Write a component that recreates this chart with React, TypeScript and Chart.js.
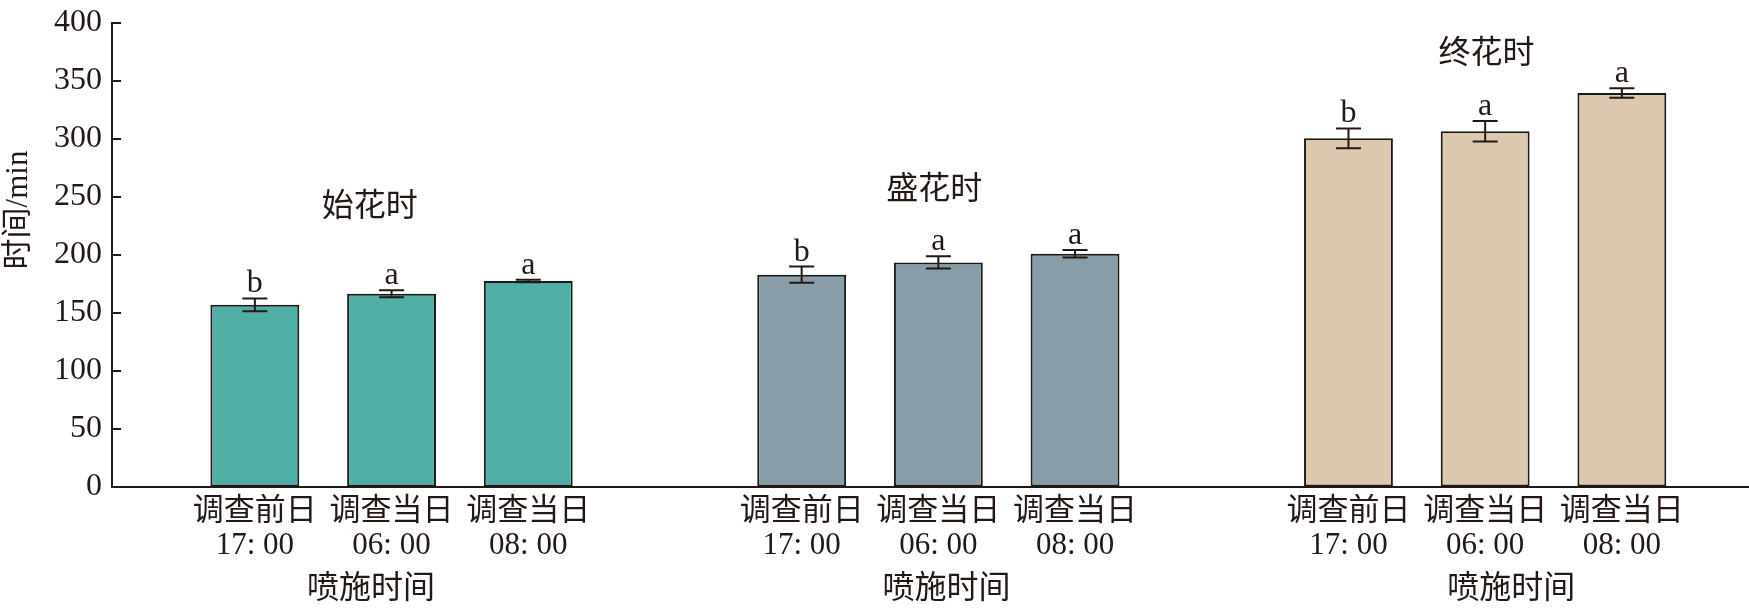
import { useEffect, useRef } from 'react';
import { Chart, registerables } from 'chart.js';

Chart.register(...registerables);

// ---- data ----
const GROUPS = ['始花时', '盛花时', '终花时'];
const TICK_LABELS = [
  ['调查前日', '17: 00'], ['调查当日', '06: 00'], ['调查当日', '08: 00'],
  ['调查前日', '17: 00'], ['调查当日', '06: 00'], ['调查当日', '08: 00'],
  ['调查前日', '17: 00'], ['调查当日', '06: 00'], ['调查当日', '08: 00'],
];
const BAR_X = [1, 2, 3, 5, 6, 7, 9, 10, 11];
const BAR_GROUP = [0, 0, 0, 1, 1, 1, 2, 2, 2];
const MEANS = [157, 166.5, 177.5, 183, 193.5, 201, 300.5, 306.5, 339.5];
const ERRORS = [5.5, 3, 1, 7, 5.3, 3.3, 8.5, 8.8, 4];
const LETTERS = ['b', 'a', 'a', 'b', 'a', 'a', 'b', 'a', 'a'];
const GROUP_LABEL_X = [1.84, 5.97, 10.01];
const GROUP_LABEL_Y = [241, 255, 373];
const X_TITLE = '喷施时间';
const X_TITLE_X = [1.85, 6.06, 10.19];
const Y_TITLE = '时间/min';

// ---- styles ----
const COLORS = ['#4FAFA5', '#889DA7', '#DCC8AE'];
const INK = '#231815';
const FONT = "'Liberation Serif', 'Times New Roman', 'Noto Sans CJK SC', serif";

const annotations = {
  id: 'annotations',
  afterDatasetsDraw(chart: any) {
    const ctx = chart.ctx;
    const xs = chart.scales.x;
    const ys = chart.scales.y;
    const area = chart.chartArea;
    ctx.save();
    ctx.strokeStyle = INK;
    ctx.fillStyle = INK;
    ctx.lineWidth = 2;
    // inward y ticks
    ys.ticks.forEach((t: any) => {
      const py = Math.round(ys.getPixelForValue(t.value));
      if (py <= area.bottom - 2) {
        ctx.beginPath();
        ctx.moveTo(area.left, py);
        ctx.lineTo(area.left + 9, py);
        ctx.stroke();
      }
    });
    // error bars + letters
    const meta = chart.getDatasetMeta(0);
    meta.data.forEach((bar: any, i: number) => {
      const cx = bar.x;
      const top = ys.getPixelForValue(MEANS[i] + ERRORS[i]);
      const bot = ys.getPixelForValue(MEANS[i] - ERRORS[i]);
      const cap = 12.5;
      ctx.beginPath();
      ctx.moveTo(cx, top);
      ctx.lineTo(cx, bot);
      ctx.moveTo(cx - cap, top);
      ctx.lineTo(cx + cap, top);
      ctx.moveTo(cx - cap, bot);
      ctx.lineTo(cx + cap, bot);
      ctx.stroke();
      ctx.font = `32px ${FONT}`;
      ctx.textAlign = 'center';
      ctx.textBaseline = 'alphabetic';
      ctx.fillText(LETTERS[i], cx, top - 6);
    });
    // group labels
    ctx.font = `32px ${FONT}`;
    ctx.textAlign = 'center';
    ctx.textBaseline = 'middle';
    GROUPS.forEach((g, i) => {
      ctx.fillText(g, xs.getPixelForValue(GROUP_LABEL_X[i]), ys.getPixelForValue(GROUP_LABEL_Y[i]));
    });
    // x-axis titles
    X_TITLE_X.forEach((v) => {
      ctx.fillText(X_TITLE, xs.getPixelForValue(v), area.bottom + 103);
    });
    // y-axis title
    ctx.save();
    ctx.translate(19, 210);
    ctx.rotate(-Math.PI / 2);
    ctx.font = `31px ${FONT}`;
    ctx.fillText(Y_TITLE, 0, 0);
    ctx.restore();
    ctx.restore();
  },
};

export default function App() {
  const ref = useRef<HTMLCanvasElement | null>(null);
  useEffect(() => {
    document.body.style.margin = '0';
    if (!ref.current) return;
    const chart = new Chart(ref.current, {
      type: 'bar',
      data: {
        datasets: [
          {
            data: BAR_X.map((x, i) => ({ x, y: MEANS[i] })),
            backgroundColor: BAR_GROUP.map((g) => COLORS[g]),
            borderColor: '#1a1a1a',
            borderWidth: 2,
            borderSkipped: false,
            barPercentage: 0.65,
            categoryPercentage: 1,
          },
        ],
      },
      options: {
        animation: false,
        responsive: false,
        devicePixelRatio: 1,
        layout: { padding: { top: 17, right: 0, left: 0, bottom: 0 } },
        plugins: { legend: { display: false }, tooltip: { enabled: false } },
        scales: {
          x: {
            type: 'linear',
            min: -0.045,
            max: 11.93,
            offset: false,
            grid: { display: true, drawOnChartArea: false, drawTicks: false, offset: false },
            border: { display: true, color: INK, width: 2 },
            afterBuildTicks: (scale: any) => {
              scale.ticks = BAR_X.map((v) => ({ value: v }));
            },
            afterFit: (scale: any) => {
              scale.height = 124;
            },
            ticks: {
              autoSkip: false,
              maxRotation: 0,
              minRotation: 0,
              padding: 8,
              color: INK,
              font: { family: FONT, size: 31, lineHeight: '34px' },
              callback: (_v: any, i: number) => TICK_LABELS[i],
            },
          },
          y: {
            min: 0,
            max: 400,
            grid: { display: true, drawOnChartArea: false, drawTicks: false },
            border: { display: true, color: INK, width: 2 },
            afterFit: (scale: any) => {
              scale.width = 112;
            },
            ticks: {
              stepSize: 50,
              padding: 10,
              color: INK,
              font: { family: FONT, size: 32, lineHeight: 0.8 },
            },
          },
        },
      },
      plugins: [annotations],
    } as any);
    return () => chart.destroy();
  }, []);
  return (
    <div style={{ width: 1749, height: 611 }}>
      <canvas ref={ref} width={1749} height={611} style={{ display: 'block' }} />
    </div>
  );
}
